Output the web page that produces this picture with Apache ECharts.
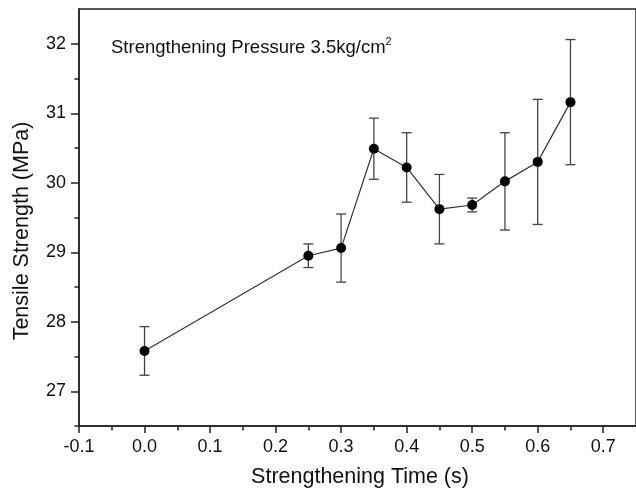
<!DOCTYPE html>
<html>
<head>
<meta charset="utf-8">
<script src="https://cdn.jsdelivr.net/npm/echarts@6/dist/echarts.min.js"></script>
<style>
  html, body { margin: 0; padding: 0; background: #fff; }
  #chart { width: 636px; height: 494px; }
</style>
</head>
<body>
<div id="chart"></div>
<script>
// Strengthening time (s) and measured tensile strength (MPa) with standard deviation
const times    = [0.0, 0.25, 0.30, 0.35, 0.40, 0.45, 0.50, 0.55, 0.60, 0.65];
const strength = [27.58, 28.95, 29.06, 30.49, 30.22, 29.62, 29.68, 30.02, 30.30, 31.16];
const errors   = [0.35, 0.17, 0.49, 0.44, 0.50, 0.50, 0.10, 0.70, 0.90, 0.90];

// Axis tick positions
const xMajorTicks = [-0.1, 0.0, 0.1, 0.2, 0.3, 0.4, 0.5, 0.6, 0.7];
const xMinorTicks = [-0.05, 0.05, 0.15, 0.25, 0.35, 0.45, 0.55, 0.65];
const yMajorTicks = [27, 28, 29, 30, 31, 32];
const yMinorTicks = [26.5, 27.5, 28.5, 29.5, 30.5, 31.5];

const FONT = '"Liberation Sans", Arial, sans-serif';
const INK = '#111';
const AXIS = '#222';

const points = times.map((t, i) => [t, strength[i]]);
const bars = times.map((t, i) => [t, strength[i] - errors[i], strength[i] + errors[i]]);

const chart = echarts.init(document.getElementById('chart'), null, { renderer: 'canvas' });

const xBase = {
  type: 'value', min: -0.1, max: 0.75,
  splitLine: { show: false }
};
const yBase = {
  type: 'value', min: 26.5, max: 32.5,
  splitLine: { show: false }
};

chart.setOption({
  animation: false,
  backgroundColor: '#fff',
  grid: {
    left: 79, right: -4, top: 9, bottom: 68,
    show: true, borderColor: AXIS, borderWidth: 1.5, backgroundColor: 'transparent'
  },
  xAxis: [
    Object.assign({}, xBase, {
      position: 'bottom',
      axisLine: { show: true, onZero: false, lineStyle: { color: AXIS, width: 1.5 } },
      axisTick: { show: true, customValues: xMajorTicks, length: 7, lineStyle: { color: AXIS, width: 1.5 } },
      axisLabel: {
        show: true, customValues: xMajorTicks, margin: 12,
        color: INK, fontFamily: FONT, fontSize: 18,
        formatter: v => v.toFixed(1)
      }
    }),
    Object.assign({}, xBase, {
      position: 'bottom', offset: 0,
      axisLine: { show: false, onZero: false },
      axisTick: { show: true, customValues: xMinorTicks, length: 4.5, lineStyle: { color: AXIS, width: 1.5 } },
      axisLabel: { show: false }
    })
  ],
  yAxis: [
    Object.assign({}, yBase, {
      position: 'left',
      axisLine: { show: true, onZero: false, lineStyle: { color: AXIS, width: 1.5 } },
      axisTick: { show: true, customValues: yMajorTicks, length: 8, lineStyle: { color: AXIS, width: 1.5 } },
      axisLabel: {
        show: true, customValues: yMajorTicks, margin: 13,
        color: INK, fontFamily: FONT, fontSize: 18,
        formatter: v => String(Math.round(v))
      }
    }),
    Object.assign({}, yBase, {
      position: 'left', offset: 0,
      axisLine: { show: false, onZero: false },
      axisTick: { show: true, customValues: yMinorTicks, length: 4.5, lineStyle: { color: AXIS, width: 1.5 } },
      axisLabel: { show: false }
    })
  ],
  graphic: [
    {
      type: 'text',
      x: 22, y: 231, rotation: Math.PI / 2,
      style: {
        text: 'Tensile Strength (MPa)',
        font: '21.5px ' + FONT, fill: INK,
        align: 'center', verticalAlign: 'middle'
      }
    },
    {
      type: 'text', x: 360, y: 477,
      style: {
        text: 'Strengthening Time (s)',
        font: '21.5px ' + FONT, fill: INK,
        align: 'center', verticalAlign: 'middle'
      }
    },
    {
      type: 'text', x: 111, y: 36,
      style: {
        text: '{a|Strengthening Pressure 3.5kg/cm}{s|2}',
        fill: INK,
        rich: {
          a: { fontFamily: FONT, fontSize: 18.5, color: INK, verticalAlign: 'bottom', lineHeight: 21 },
          s: { fontFamily: FONT, fontSize: 11, color: INK, verticalAlign: 'top', lineHeight: 21 }
        }
      }
    }
  ],
  series: [
    {
      type: 'custom',
      name: 'error',
      xAxisIndex: 0, yAxisIndex: 0,
      data: bars,
      z: 2,
      renderItem: function (params, api) {
        const x = api.value(0);
        const lo = api.coord([x, api.value(1)]);
        const hi = api.coord([x, api.value(2)]);
        const cap = 5;
        const style = { stroke: '#444', lineWidth: 1.3, fill: null };
        return {
          type: 'group',
          children: [
            { type: 'line', shape: { x1: hi[0], y1: hi[1], x2: lo[0], y2: lo[1] }, style: style },
            { type: 'line', shape: { x1: hi[0] - cap, y1: hi[1], x2: hi[0] + cap, y2: hi[1] }, style: style },
            { type: 'line', shape: { x1: lo[0] - cap, y1: lo[1], x2: lo[0] + cap, y2: lo[1] }, style: style }
          ]
        };
      },
      encode: { x: 0, y: [1, 2] }
    },
    {
      type: 'line',
      name: 'strength',
      xAxisIndex: 0, yAxisIndex: 0,
      data: points,
      z: 3,
      symbol: 'circle',
      symbolSize: 10,
      lineStyle: { color: '#333', width: 1.2 },
      itemStyle: { color: '#000', borderWidth: 0 }
    }
  ]
});
</script>
</body>
</html>
